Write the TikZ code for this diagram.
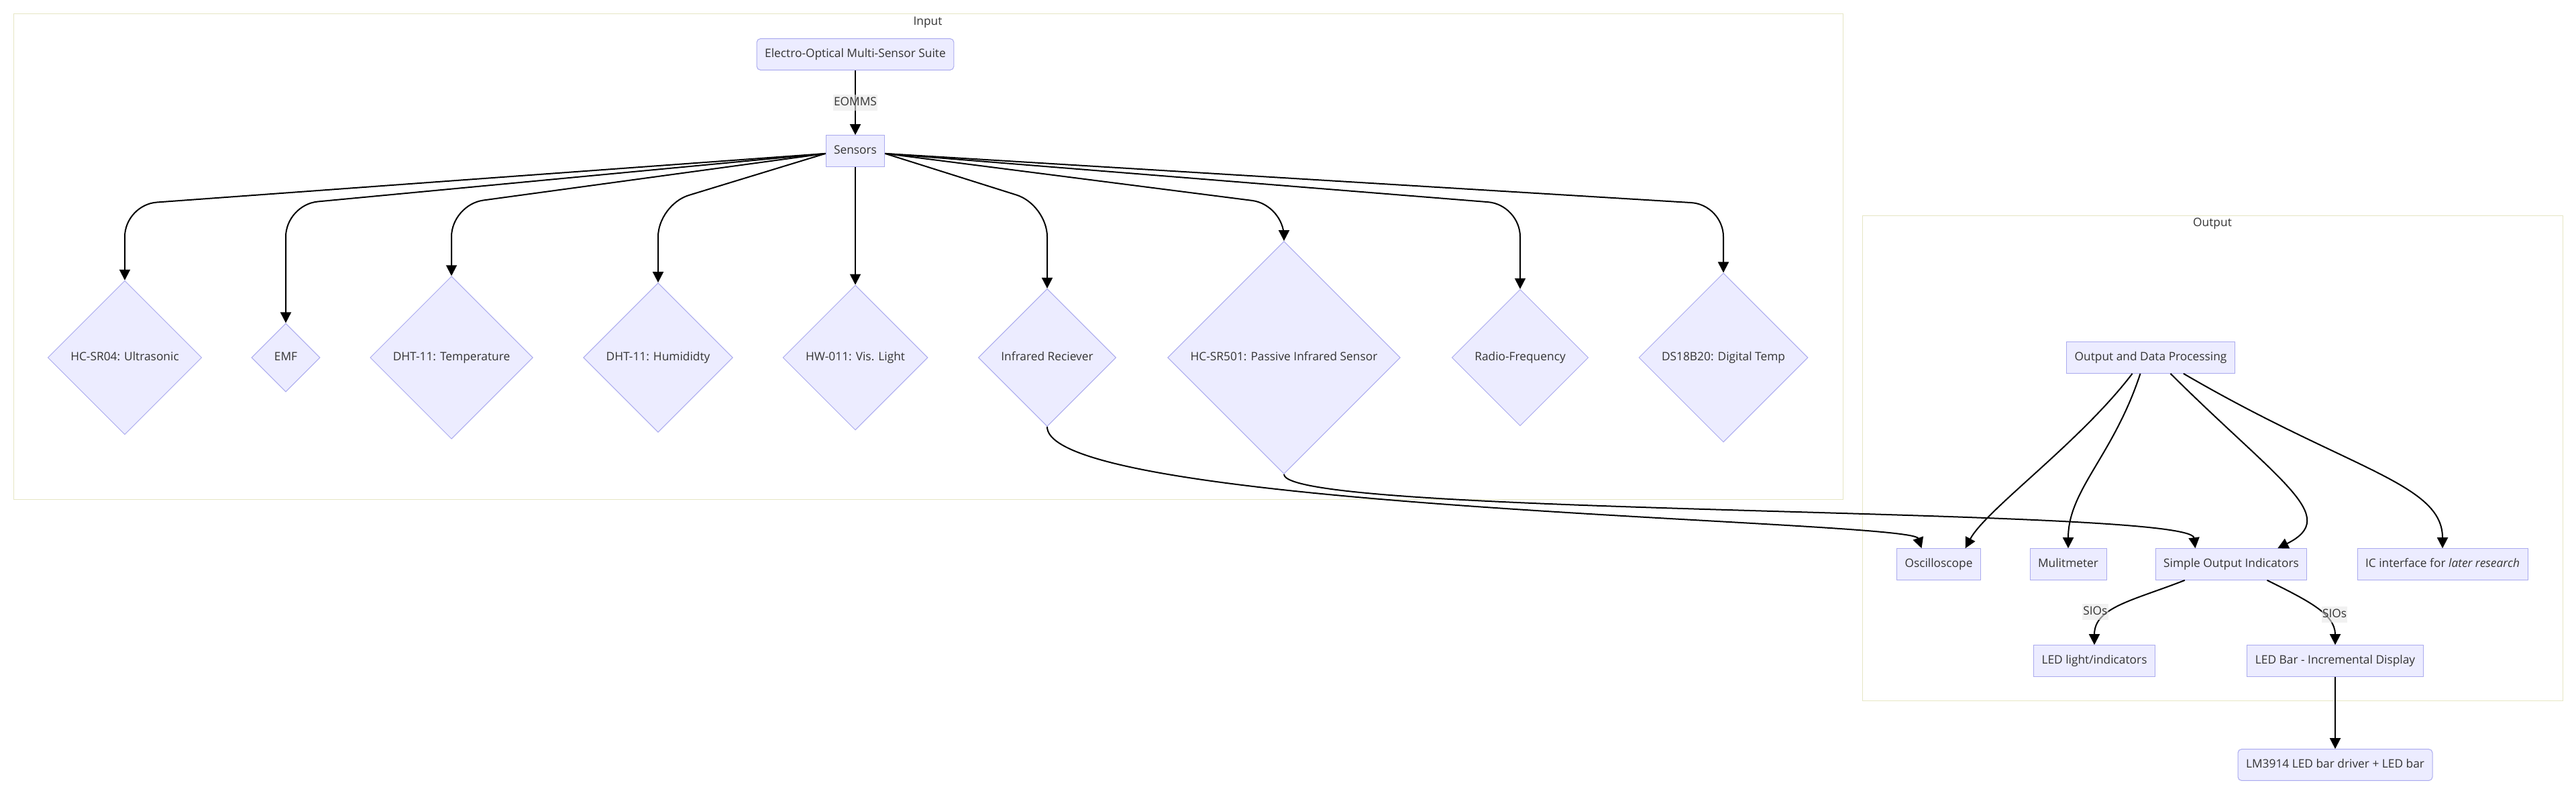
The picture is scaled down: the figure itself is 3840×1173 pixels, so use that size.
\documentclass[tikz,border=0pt]{standalone}
\usepackage{fontspec}
\setmainfont{Open Sans}
\usetikzlibrary{arrows.meta, shapes.geometric}

\definecolor{nodefill}{HTML}{ECECFF}
\definecolor{nodeline}{HTML}{AAAAEE}
\definecolor{nodetext}{HTML}{333333}
\definecolor{groupline}{HTML}{E6E6C4}
\definecolor{labelfill}{HTML}{E8E8E8}

\tikzset{
    box/.style={draw=nodeline, fill=nodefill, line width=0.75pt, text=nodetext,
        inner xsep=9pt, inner ysep=10pt, text height=11pt, text depth=4pt},
    roundbox/.style={box, rounded corners=4pt},
    sensor/.style={diamond, aspect=1, draw=nodeline, fill=nodefill, line width=0.75pt,
        text=nodetext, inner sep=9pt, text height=11pt, text depth=4pt},
    group/.style={draw=groupline, line width=0.75pt},
    grouptitle/.style={text=nodetext, inner sep=0pt},
    link/.style={line width=1.5pt, -{Triangle[length=12pt, width=12pt]}},
    linklabel/.style={fill=labelfill, fill opacity=0.6, text opacity=1, text=nodetext,
        inner xsep=1pt, inner ysep=0pt, text height=12.5pt, text depth=5.5pt}
}

\begin{document}
\begin{tikzpicture}[x=0.75pt, y=-0.75pt, font=\fontsize{13}{15}\selectfont]
    \fill[white] (0,0) rectangle (3840,1173);
    % subgraphs
    \draw[group] (20,21) rectangle (2747,744);
    \node[grouptitle] (intitle) at (1383,33) {Input};
    \draw[group] (2776,321) rectangle (3820,1044);
    \node[grouptitle] (outtitle) at (3298,333) {Output};

    % input side
    \node[roundbox] (eomss) at (1275,81) {Electro-Optical Multi-Sensor Suite};
    \node[box] (sens) at (1275,225) {Sensors};
    \node[sensor] (sr04) at (186,533) {HC-SR04: Ultrasonic};
    \node[sensor] (emf) at (426,533) {EMF};
    \node[sensor] (dhttemp) at (673,533) {DHT-11: Temperature};
    \node[sensor] (dhthum) at (981,533) {DHT-11: Humididty};
    \node[sensor] (hw011) at (1275,533) {HW-011: Vis. Light};
    \node[sensor] (irrec) at (1561,533) {Infrared Reciever};
    \node[sensor] (sr501) at (1914,533) {HC-SR501: Passive Infrared Sensor};
    \node[sensor] (rf) at (2266,533) {Radio-Frequency};
    \node[sensor] (ds18) at (2569,533) {DS18B20: Digital Temp};
    \coordinate (bend) at (0,305);

    % output side
    \node[box] (odp) at (3206,533) {Output and Data Processing};
    \node[box] (osc) at (2890,841) {Oscilloscope};
    \node[box] (mult) at (3083,841) {Mulitmeter};
    \node[box] (sio) at (3326,841) {Simple Output Indicators};
    \node[box] (ic) at (3641,841) {IC interface for \textit{later research}};
    \node[box] (ledlight) at (3122,985) {LED light/indicators};
    \node[box] (ledbar) at (3481,985) {LED Bar - Incremental Display};
    \node[roundbox] (lm3914) at (3481,1140) {LM3914 LED bar driver + LED bar};

    % edges
    \draw[link] (eomss) -- (sens) node[linklabel, midway] (eommslbl) {EOMMS};
    \draw[link, rounded corners=36pt] (sens.185) -- (sr04.north |- bend) -- (sr04.north);
    \draw[link, rounded corners=36pt] (sens.185) -- (emf.north |- bend) -- (emf.north);
    \draw[link, rounded corners=36pt] (sens.185) -- (dhttemp.north |- bend) -- (dhttemp.north);
    \draw[link, rounded corners=36pt] (sens.185) -- (dhthum.north |- bend) -- (dhthum.north);
    \draw[link] (sens) -- (hw011);
    \draw[link, rounded corners=36pt] (sens.355) -- (irrec.north |- bend) -- (irrec.north);
    \draw[link, rounded corners=36pt] (sens.355) -- (sr501.north |- bend) -- (sr501.north);
    \draw[link, rounded corners=36pt] (sens.355) -- (rf.north |- bend) -- (rf.north);
    \draw[link, rounded corners=36pt] (sens.355) -- (ds18.north |- bend) -- (ds18.north);

    \draw[link] (irrec.south) .. controls (1561,760) and (2850,775) .. (osc.137);
    \draw[link] (sr501.south) .. controls (1914,770) and (3265,755) .. (sio.156);

    \draw[link] (odp.221) .. controls (3100,660) and (2960,760) .. (osc.31);
    \draw[link] (odp.237) .. controls (3150,680) and (3083,730) .. (mult.north);
    \draw[link] (odp.321) .. controls (3400,720) and (3490,770) .. (sio.19);
    \draw[link] (odp.334) .. controls (3500,700) and (3641,720) .. (ic.north);

    \draw[link] (sio.199) .. controls (3180,895) and (3122,905) .. (ledlight.north)
        node[linklabel, pos=0.6, xshift=-18pt] (sioslbla) {SIOs};
    \draw[link] (sio.336) .. controls (3440,895) and (3481,915) .. (ledbar.north)
        node[linklabel, pos=0.6, xshift=13pt] (sioslblb) {SIOs};
    \draw[link] (ledbar) -- (lm3914);
\end{tikzpicture}
\end{document}
